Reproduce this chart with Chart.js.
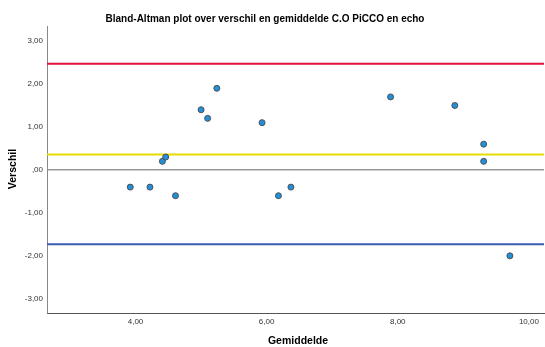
<!DOCTYPE html>
<html><head><meta charset="utf-8">
<script src="https://cdn.jsdelivr.net/npm/chart.js@4"></script>
<style>html,body{margin:0;padding:0;background:#fff}#w{width:545px;height:347px}</style>
</head><body><div id="w"><canvas id="c" width="545" height="347"></canvas></div>
<script>
const chartTitle = "Bland-Altman plot over verschil en gemiddelde C.O PiCCO en echo";
const xTitle = "Gemiddelde";
const yTitle = "Verschil";
const gemiddelde = [3.92, 4.22, 4.41, 4.46, 4.61, 5.00, 5.10, 5.24, 5.93, 6.18, 6.37, 7.89, 8.87, 9.31, 9.31, 9.71];
const verschil   = [-0.40, -0.40, 0.20, 0.30, -0.60, 1.40, 1.20, 1.90, 1.10, -0.60, -0.40, 1.70, 1.50, 0.60, 0.20, -2.00];
const meanDiff = 0.36;
const upperLoA = 2.47;
const lowerLoA = -1.73;
const xTicks = [4, 6, 8, 10];
const yTicks = [-3, -2, -1, 0, 1, 2, 3];
const xMin = 2.65, xMax = 10.23, yMin = -3.33, yMax = 3.35;

function fmt(v){ if (v === 0) return ",00"; return v.toFixed(2).replace(".", ","); }
function hline(y){ return [{x:xMin,y:y},{x:xMax,y:y}]; }

const textPlugin = {
  id: 'texts',
  afterDraw(chart){
    const ctx = chart.ctx;
    ctx.save();
    ctx.fillStyle = '#000';
    ctx.textAlign = 'center'; ctx.textBaseline = 'middle';
    ctx.font = 'bold 10px "Liberation Sans", Arial, sans-serif';
    ctx.fillText(chartTitle, 265, 19);
    ctx.font = 'bold 10.5px "Liberation Sans", Arial, sans-serif';
    ctx.fillText(xTitle, 298, 341);
    ctx.translate(13, 169); ctx.rotate(-Math.PI/2);
    ctx.fillText(yTitle, 0, 0);
    ctx.restore();
  }
};

new Chart(document.getElementById('c'), {
  type: 'scatter',
  data: {
    datasets: [
      { data: gemiddelde.map((x,i)=>({x:x,y:verschil[i]})),
        backgroundColor:'#2090dc', borderColor:'#505050', borderWidth:1, pointRadius:3 },
      { type:'line', data: hline(upperLoA), borderColor:'#e0103c', borderWidth:2, pointRadius:0, showLine:true },
      { type:'line', data: hline(meanDiff), borderColor:'#e6dc00', borderWidth:2, pointRadius:0, showLine:true },
      { type:'line', data: hline(lowerLoA), borderColor:'#3a5bb0', borderWidth:2, pointRadius:0, showLine:true }
    ]
  },
  options: {
    responsive:false, animation:false, devicePixelRatio:1,
    layout:{ autoPadding:false, padding:{ top:26, right:1, left:0, bottom:0 } },
    plugins:{ legend:{display:false}, tooltip:{enabled:false}, title:{display:false} },
    scales:{
      x:{ type:'linear', min:xMin, max:xMax,
        afterBuildTicks(s){ s.ticks = xTicks.map(v=>({value:v})); },
        afterFit(s){ s.height = 34; s.paddingLeft = 0; s.paddingRight = 0; },
        ticks:{ callback:fmt, color:'#333', font:{size:8, family:'"Liberation Sans", Arial, sans-serif'}, padding:4, maxRotation:0 },
        grid:{ display:false, drawTicks:false },
        border:{ display:true, color:'#555', width:1 } },
      y:{ type:'linear', min:yMin, max:yMax,
        afterBuildTicks(s){ s.ticks = yTicks.map(v=>({value:v})); },
        afterFit(s){ s.width = 47; s.paddingTop = 0; s.paddingBottom = 0; },
        ticks:{ callback:fmt, color:'#333', font:{size:8, family:'"Liberation Sans", Arial, sans-serif'}, padding:4 },
        grid:{ drawTicks:false, lineWidth:1.5, color:(c)=> c.tick && c.tick.value===0 ? '#999' : 'rgba(0,0,0,0)' },
        border:{ display:true, color:'#888', width:1 } }
    }
  },
  plugins:[textPlugin]
});
</script></body></html>
